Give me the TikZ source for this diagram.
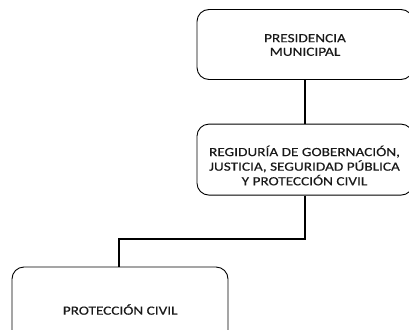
\documentclass[tikz,border=0pt]{standalone}
\usepackage{fontspec}
\setmainfont[FakeStretch=1.22,FakeBold=0.25]{Carlito}
\begin{document}
\begin{tikzpicture}[x=1pt,y=-1pt,
  boxshape/.style={draw, line width=0.9pt, rounded corners=12pt, minimum width=216pt, inner sep=0pt},
  txt/.style={align=center, inner sep=0pt, text=black!90, font=\fontsize{12.5pt}{13.6pt}\selectfont},
  txtb/.style={align=center, inner sep=0pt, text=black!90, font=\fontsize{12.5pt}{14.6pt}\selectfont},
  conn/.style={line width=1.6pt}]
\useasboundingbox (0,0) rectangle (409,329);
\clip (0,0) rectangle (409,329);
\node[boxshape, minimum height=70pt] (pres) at (305,44.5) {};
\node[txt] (prest) at (305,45) {PRESIDENCIA\\MUNICIPAL};
\node[boxshape, minimum height=71pt] (reg) at (305,159.6) {};
\node[txtb] (regt) at (304.5,165.5) {REGIDURÍA DE GOBERNACIÓN,\\JUSTICIA, SEGURIDAD PÚBLICA\\Y PROTECCIÓN CIVIL};
\node[boxshape, minimum height=85pt] (pc) at (120,309.5) {};
\node[txt] (pct) at (120.2,309.5) {PROTECCIÓN CIVIL};
\coordinate (bend1) at (305,239);
\coordinate (bend2) at (119,239);
\draw[conn] (pres.south) -- (reg.north);
\draw[conn] (reg.south) -- (bend1) -- (bend2) -- (bend2 |- pc.north);
\end{tikzpicture}
\end{document}
